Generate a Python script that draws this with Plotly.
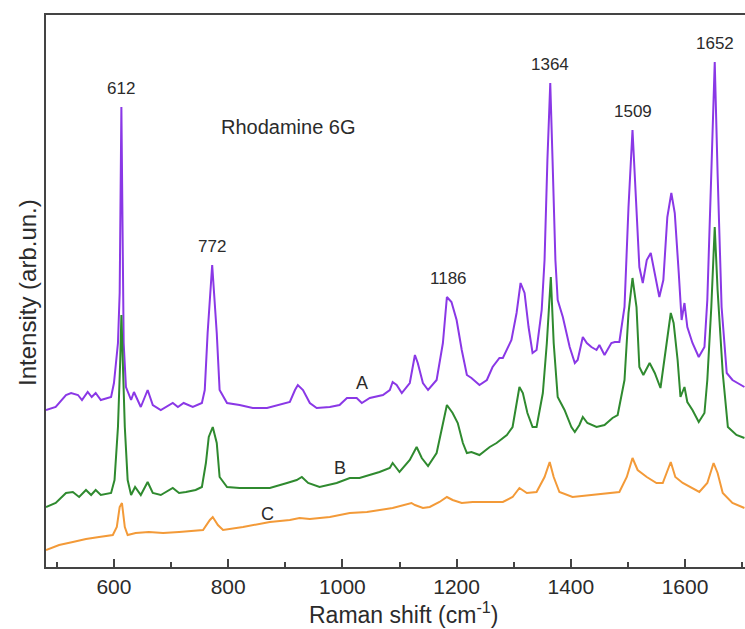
import plotly.graph_objects as go

# ---- data (Raman shift in cm^-1, intensity in arb. units) ----
wave_A = [481, 498, 516, 525, 537, 544, 554, 561, 568, 577, 595, 600, 607, 610, 613, 617, 621, 630, 635, 647,
          659, 668, 682, 703, 712, 722, 738, 754, 759, 764, 772, 780, 785, 798, 820, 843, 868, 890, 908, 917,
          922, 931, 943, 955, 978, 995, 1008, 1013, 1025, 1034, 1048, 1071, 1083, 1088, 1095, 1104, 1118, 1127,
          1132, 1141, 1150, 1165, 1176, 1183, 1191, 1200, 1209, 1218, 1226, 1240, 1253, 1263, 1275, 1281, 1296,
          1305, 1312, 1319, 1326, 1333, 1340, 1349, 1354, 1359, 1364, 1368, 1373, 1377, 1386, 1398, 1407, 1412,
          1421, 1428, 1436, 1445, 1450, 1459, 1471, 1477, 1485, 1494, 1501, 1508, 1515, 1520, 1526, 1533, 1540,
          1547, 1555, 1562, 1569, 1576, 1582, 1589, 1594, 1599, 1604, 1613, 1624, 1634, 1639, 1646, 1652, 1657,
          1664, 1673, 1683, 1704]
int_A = [157, 160, 172, 174, 172, 167, 175, 170, 174, 167, 170, 184, 224, 274, 460, 224, 180, 167, 175, 160,
         177, 162, 157, 164, 160, 164, 160, 164, 177, 234, 302, 234, 177, 164, 162, 159, 159, 162, 165, 177,
         182, 177, 164, 159, 160, 162, 169, 169, 169, 164, 169, 172, 177, 185, 182, 174, 184, 212,
         204, 184, 177, 187, 224, 270, 265, 247, 217, 192, 189, 182, 187, 200, 209, 209, 227,
         254, 284, 274, 240, 214, 217, 257, 307, 407, 484, 407, 307, 267, 250, 220, 204, 207,
         230, 224, 220, 217, 222, 212, 224, 225, 225, 260, 360, 437, 360, 300, 284, 307, 314,
         294, 270, 287, 350, 374, 354, 294, 247, 264, 240, 224, 210, 220, 267, 394, 505, 394,
         260, 194, 187, 180]

wave_B = [481, 498, 516, 528, 539, 551, 560, 568, 577, 595, 601, 607, 611, 613, 619, 624, 630, 637, 647, 659,
          668, 682, 703, 714, 726, 743, 754, 761, 766, 773, 780, 785, 798, 820, 850, 873, 903, 920, 929, 940,
          960, 990, 1013, 1030, 1065, 1083, 1088, 1100, 1118, 1130, 1139, 1150, 1165, 1176, 1183, 1193, 1202,
          1211, 1218, 1226, 1240, 1258, 1270, 1288, 1298, 1310, 1316, 1324, 1333, 1340, 1351, 1358, 1365,
          1370, 1377, 1389, 1401, 1407, 1415, 1421, 1429, 1445, 1459, 1473, 1482, 1494, 1501, 1508, 1515,
          1520, 1527, 1538, 1547, 1557, 1564, 1575, 1580, 1587, 1592, 1599, 1604, 1613, 1624, 1634, 1639,
          1646, 1652, 1657, 1666, 1675, 1690, 1704]
int_B = [60, 64, 74, 75, 70, 77, 72, 77, 72, 74, 87, 140, 207, 252, 140, 87, 72, 80, 72, 85,
         74, 72, 79, 74, 75, 77, 80, 104, 130, 140, 124, 90, 80, 79, 79, 79, 84, 87, 90, 84,
         80, 84, 89, 89, 95, 99, 104, 95, 107, 120, 109, 101, 114, 144, 162, 154, 144,
         124, 114, 115, 112, 120, 124, 132, 140, 180, 174, 154, 140, 140, 174, 224, 290,
         224, 170, 157, 140, 135, 142, 150, 144, 140, 142, 149, 152, 187, 254, 289, 260,
         200, 192, 204, 194, 179, 207, 254, 244, 207, 170, 180, 165, 157, 145, 154, 187,
         260, 340, 277, 194, 140, 132, 129]

wave_C = [481, 504, 528, 551, 574, 598, 605, 610, 614, 619, 624, 638, 661, 686, 714, 743, 756, 768, 773, 782,
          791, 826, 873, 908, 925, 943, 978, 1013, 1043, 1088, 1121, 1127, 1141, 1153, 1170, 1183, 1193, 1209,
          1228, 1253, 1281, 1298, 1310, 1323, 1340, 1354, 1363, 1370, 1380, 1403, 1433, 1468, 1485, 1498,
          1508, 1517, 1533, 1550, 1561, 1575, 1583, 1596, 1613, 1625, 1639, 1650, 1657, 1666, 1683, 1704]
int_C = [17, 22, 25, 28, 30, 32, 40, 60, 64, 40, 32, 34, 35, 34, 35, 36, 37, 47, 50, 42,
         37, 40, 45, 47, 49, 48, 50, 54, 55, 59, 64, 62, 59, 60, 65, 70, 67, 64,
         65, 65, 65, 70, 79, 74, 75, 90, 105, 90, 75, 70, 72, 74, 75, 90,
         109, 97, 90, 84, 84, 105, 90, 84, 79, 75, 84, 104, 94, 74, 64, 59]

peak_labels = ["612", "772", "1186", "1364", "1509", "1652"]
series_names = ["A", "B", "C"]
sample_name = "Rhodamine 6G"

FONT = "Liberation Sans, Arial, sans-serif"
TXT = "#2b2b2b"
colors = ["#8a38e6", "#2f8a2f", "#f39a38"]

fig = go.Figure()
for name, xs, ys, col in zip(series_names, [wave_A, wave_B, wave_C], [int_A, int_B, int_C], colors):
    fig.add_trace(go.Scatter(x=xs, y=ys, mode="lines", name=name,
                             line=dict(color=col, width=2), showlegend=False))

# peak labels placed above the local maximum of curve A
for lab in peak_labels:
    p = float(lab)
    near = [y for x, y in zip(wave_A, int_A) if abs(x - p) <= 10]
    fig.add_annotation(x=p, y=max(near), text=lab, showarrow=False, yshift=19,
                       yanchor="middle", font=dict(family=FONT, size=17, color=TXT))

fig.add_annotation(x=905, y=440, text=sample_name, showarrow=False,
                   font=dict(family=FONT, size=20, color=TXT))
for lab, x, y in zip(series_names, [1034, 995, 869], [184, 99, 53]):
    fig.add_annotation(x=x, y=y, text=lab, showarrow=False,
                       font=dict(family=FONT, size=18, color=TXT))

# axis titles
fig.add_annotation(xref="paper", yref="paper", x=(404 - 46) / 699, y=-(613 - 567) / 552,
                   text="Raman shift (cm<sup>-1</sup>)", showarrow=False, yanchor="middle",
                   font=dict(family=FONT, size=23, color=TXT))
fig.add_annotation(xref="paper", yref="paper", x=-(46 - 27) / 699, y=(567 - 293) / 552,
                   text="Intensity (arb.un.)", showarrow=False, textangle=-90, xanchor="center",
                   font=dict(family=FONT, size=24, color=TXT))

fig.update_layout(
    width=745, height=629,
    margin=dict(l=46, r=0, t=15, b=62),
    paper_bgcolor="white", plot_bgcolor="white",
    xaxis=dict(range=[481, 1705], tick0=0, dtick=200, ticks="inside", ticklen=8, tickwidth=1.5,
               tickcolor="#444", showline=True, linecolor="#444", linewidth=2, mirror=True,
               showgrid=False, zeroline=False,
               tickfont=dict(family=FONT, size=21, color=TXT),
               minor=dict(dtick=100, ticks="inside", ticklen=5, tickwidth=1.5, tickcolor="#444")),
    yaxis=dict(range=[0, 552], showticklabels=False, ticks="", showline=True, linecolor="#444",
               linewidth=2, showgrid=False, zeroline=False),
)

fig.write_html("out.html", config={"displayModeBar": False},
               post_script="document.body.style.margin='0';document.body.style.overflow='hidden';")
